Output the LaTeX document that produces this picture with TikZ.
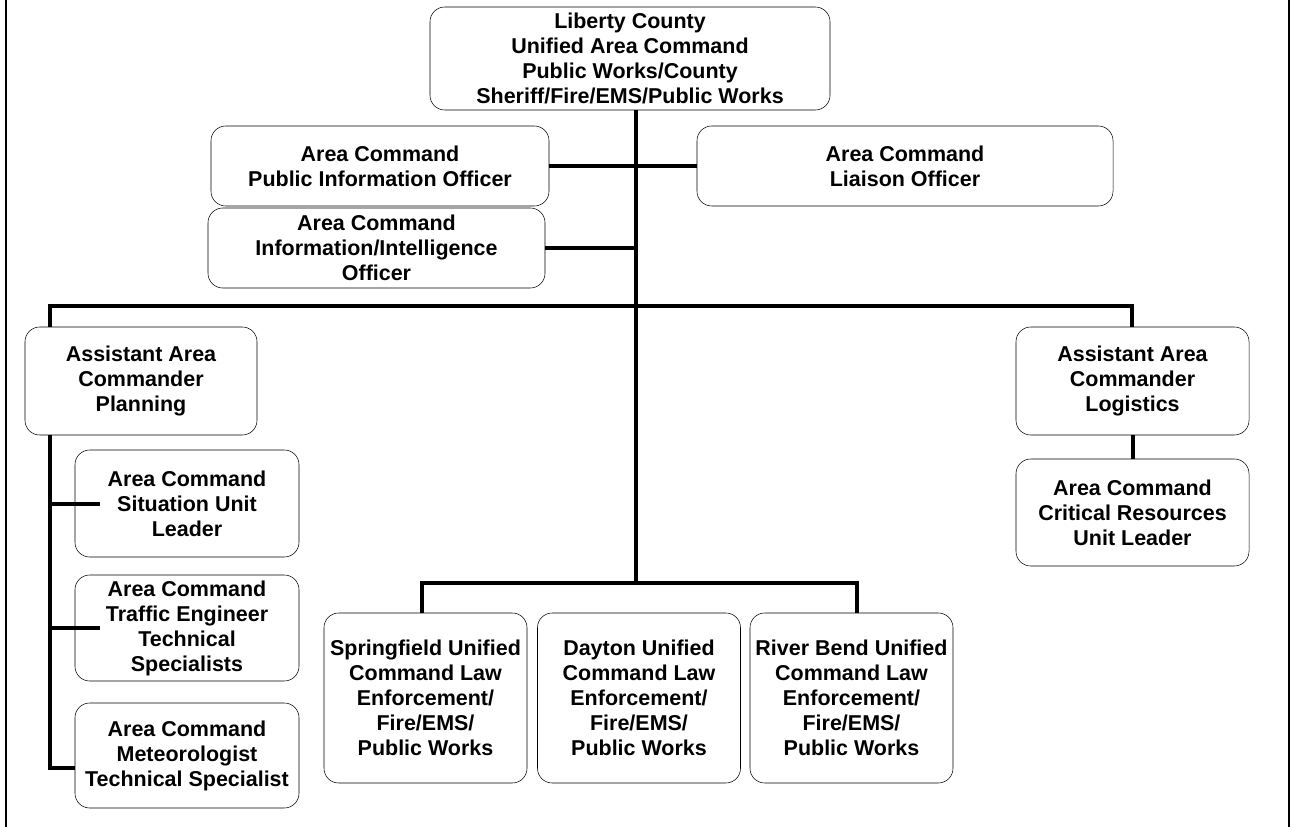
\documentclass[tikz,border=0pt]{standalone}
\usepackage{fontspec}
\setmainfont{Liberation Sans}

\begin{document}
\begin{tikzpicture}[x=0.75pt,y=0.75pt,yscale=-1,xscale=1,
	box/.style={draw, fill=white, rounded corners=11pt, align=center, inner sep=0pt, font=\bfseries\fontsize{16.1}{18.75}\selectfont},
	link/.style={line width=3pt}]
	\useasboundingbox (0,0) rectangle (1291,827);
	
	%Straight Lines: side rules
	\draw [line width=2pt] (6,0) -- (6,827) ;
	\draw [line width=2pt] (1289,0) -- (1289,827) ;
	
	% Command staff
	\node [box, minimum width=300pt, minimum height=77.25pt] (top) at (630,58.5) {Liberty County\\Unified Area Command\\Public Works/County\\Sheriff/Fire/EMS/Public Works};
	\node [box, minimum width=253.5pt, minimum height=60pt] (pio) at (380,166) {Area Command\\Public Information Officer};
	\node [box, minimum width=312pt, minimum height=60pt] (liaison) at (905,166) {Area Command\\Liaison Officer};
	\node [box, minimum width=252.75pt, minimum height=60pt] (intel) at (376.5,248) {Area Command\\Information/Intelligence\\Officer};
	
	% Planning branch
	\node [box, minimum width=174pt, minimum height=81pt] (planning) at (141,381) {Assistant Area\\Commander\\Planning};
	\node [box, minimum width=168pt, minimum height=80.25pt] (sit) at (187,503.5) {Area Command\\Situation Unit\\Leader};
	\node [box, minimum width=168pt, minimum height=79.5pt] (traffic) at (187,628) {Area Command\\Traffic Engineer\\Technical\\Specialists};
	\node [box, minimum width=168pt, minimum height=78.75pt] (met) at (187,755.5) {Area Command\\Meteorologist\\Technical Specialist};
	
	% Logistics branch
	\node [box, minimum width=174.75pt, minimum height=81pt] (logistics) at (1132.5,381) {Assistant Area\\Commander\\Logistics};
	\node [box, minimum width=174.75pt, minimum height=80.25pt] (critical) at (1132.5,512.5) {Area Command\\Critical Resources\\Unit Leader};
	
	% Unified commands
	\node [box, minimum width=152.25pt, minimum height=127.5pt] (spring) at (425.5,698) {Springfield Unified\\Command Law\\Enforcement/\\Fire/EMS/\\Public Works};
	\node [box, minimum width=152.25pt, minimum height=127.5pt] (dayton) at (639,698) {Dayton Unified\\Command Law\\Enforcement/\\Fire/EMS/\\Public Works};
	\node [box, minimum width=152.25pt, minimum height=127.5pt] (river) at (851.5,698) {River Bend Unified\\Command Law\\Enforcement/\\Fire/EMS/\\Public Works};
	
	% Junction points
	\coordinate (trunk) at (636,306);
	\coordinate (lspine) at (50,306);
	\coordinate (rspine) at (1132,306);
	\coordinate (subbar) at (636,583);
	\coordinate (lsub) at (422,583);
	\coordinate (rsub) at (857,583);
	\coordinate (lfoot) at (50,768);
	
	% Connectors
	\draw [link] (top.south -| trunk) -- (subbar) ;
	\draw [link] (pio.east) -- (liaison.west) ;
	\draw [link] (intel.east) -- (intel.east -| trunk) ;
	\draw [link] (planning.north -| lspine) -- (lspine) -- (rspine) -- (logistics.north -| rspine) ;
	\draw [link] (planning.south -| lspine) -- (lfoot) -- (lfoot -| met.west) ;
	\draw [link] (sit.west -| lspine) -- ([xshift=18.75pt]sit.west) ;
	\draw [link] (traffic.west -| lspine) -- ([xshift=18.75pt]traffic.west) ;
	\draw [link] (logistics.south) -- (critical.north) ;
	\draw [link] (spring.north -| lsub) -- (lsub) -- (rsub) -- (river.north -| rsub) ;
	
\end{tikzpicture}
\end{document}
